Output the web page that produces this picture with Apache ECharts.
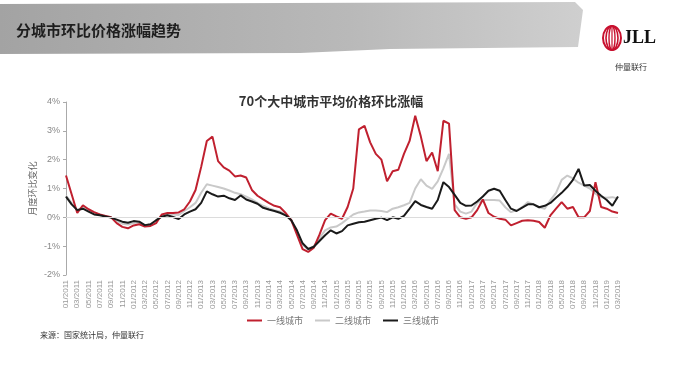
<!DOCTYPE html>
<html><head><meta charset="utf-8">
<script src="https://cdn.jsdelivr.net/npm/echarts@6/dist/echarts.min.js"></script>
<style>html,body{margin:0;padding:0;background:#fff}#c{width:698px;height:378px}</style>
</head><body><div id="c"></div>
<script>
// Monthly categories 01/2011 .. 03/2019
const startYear = 2011, monthCount = 99;
const months = [];
for (let i = 0; i < monthCount; i++) {
  const y = startYear + Math.floor(i / 12), m = (i % 12) + 1;
  months.push((m < 10 ? '0' : '') + m + '/' + y);
}
const seriesNames = ['一线城市', '二线城市', '三线城市'];
const tier1 = [1.45,0.8,0.15,0.42,0.28,0.18,0.1,0.05,0.0,-0.2,-0.33,-0.38,-0.28,-0.24,-0.32,-0.3,-0.2,0.1,0.15,0.15,0.17,0.28,0.55,0.95,1.75,2.65,2.8,1.95,1.73,1.62,1.42,1.45,1.38,0.95,0.75,0.62,0.5,0.4,0.35,0.15,-0.1,-0.6,-1.1,-1.2,-1.05,-0.6,-0.1,0.13,0.03,-0.05,0.36,1.0,3.05,3.17,2.6,2.2,2.0,1.25,1.6,1.65,2.2,2.65,3.52,2.8,1.95,2.25,1.6,3.35,3.25,0.25,0.0,-0.05,0.0,0.25,0.62,0.15,0.02,-0.05,-0.08,-0.28,-0.2,-0.12,-0.1,-0.12,-0.16,-0.36,0.07,0.3,0.53,0.3,0.36,0.0,0.0,0.22,1.22,0.36,0.3,0.2,0.15];
const tier2 = [0.75,0.5,0.25,0.35,0.25,0.15,0.1,0.05,0.0,-0.12,-0.22,-0.25,-0.2,-0.18,-0.28,-0.25,-0.12,0.05,0.12,0.1,0.08,0.22,0.35,0.5,0.85,1.15,1.1,1.05,1.0,0.93,0.85,0.8,0.72,0.62,0.5,0.4,0.32,0.25,0.2,0.08,-0.12,-0.5,-0.95,-1.12,-1.0,-0.72,-0.45,-0.35,-0.32,-0.2,-0.05,0.1,0.17,0.2,0.24,0.24,0.22,0.18,0.3,0.35,0.42,0.5,1.0,1.32,1.1,0.99,1.25,1.7,2.2,0.45,0.2,0.13,0.2,0.5,0.6,0.6,0.6,0.58,0.35,0.18,0.24,0.35,0.53,0.45,0.35,0.3,0.6,0.85,1.3,1.45,1.35,1.2,1.1,1.0,0.82,0.7,0.68,0.7,0.65];
const tier3 = [0.72,0.45,0.25,0.3,0.2,0.1,0.07,0.03,-0.01,-0.08,-0.15,-0.19,-0.13,-0.15,-0.27,-0.24,-0.1,0.02,0.07,0.01,-0.06,0.1,0.2,0.28,0.5,0.9,0.8,0.72,0.75,0.66,0.6,0.76,0.62,0.55,0.47,0.33,0.27,0.22,0.16,0.07,-0.1,-0.45,-0.9,-1.1,-1.02,-0.82,-0.62,-0.45,-0.56,-0.48,-0.28,-0.22,-0.17,-0.15,-0.1,-0.05,-0.01,-0.1,0.0,-0.05,0.05,0.3,0.56,0.43,0.36,0.3,0.6,1.22,1.05,0.78,0.5,0.4,0.41,0.55,0.72,0.92,0.99,0.92,0.6,0.3,0.22,0.34,0.45,0.45,0.35,0.4,0.5,0.68,0.85,1.05,1.3,1.68,1.1,1.12,0.92,0.75,0.6,0.4,0.72];
const yTicks = { min: -2, max: 4, interval: 1 };

const chart = echarts.init(document.getElementById('c'), null, { renderer: 'canvas' });
const lineColors = ['#c0202f', '#c9c9c9', '#1a1a1a'];
chart.setOption({
  backgroundColor: '#ffffff',
  animation: false,
  title: {
    text: '70个大中城市平均价格环比涨幅',
    left: 326, top: 90, textAlign: 'center',
    textStyle: { fontSize: 13, fontWeight: 'bold', color: '#333', fontFamily: 'Noto Sans CJK SC' }
  },
  legend: {
    data: seriesNames, left: 242, top: 311, itemWidth: 15, itemHeight: 2, itemGap: 12,
    icon: 'rect',
    textStyle: { fontSize: 9, color: '#777', fontFamily: 'Noto Sans CJK SC' }
  },
  grid: { left: 66, right: 80, top: 102, bottom: 103 },
  xAxis: {
    type: 'category', data: months, boundaryGap: false,
    axisLine: { show: false, onZero: false }, axisTick: { show: false },
    axisLabel: { interval: 1, rotate: 90, fontSize: 8, color: '#999', margin: 5, fontFamily: 'Liberation Sans' }
  },
  yAxis: {
    type: 'value', min: yTicks.min, max: yTicks.max, interval: yTicks.interval,
    name: '月度环比变化', nameLocation: 'middle', nameGap: 29, nameRotate: 90, nameMoveOverlap: false,
    nameTextStyle: { fontSize: 9, color: '#666', fontFamily: 'Noto Sans CJK SC' },
    axisLine: { show: true, lineStyle: { color: '#aaa', width: 1 } },
    axisTick: { show: true, length: 3, lineStyle: { color: '#aaa' } },
    splitLine: { show: false },
    axisLabel: { formatter: v => v + '%', fontSize: 9, color: '#888', margin: 6, fontFamily: 'Liberation Sans' }
  },
  series: [
    { name: seriesNames[1], type: 'line', data: tier2, symbol: 'none', z: 2,
      lineStyle: { color: lineColors[1], width: 2 }, itemStyle: { color: lineColors[1] },
      markLine: { silent: true, symbol: 'none', label: { show: false },
        lineStyle: { color: '#dcdcdc', width: 1, type: 'solid' }, data: [{ yAxis: 0 }] } },
    { name: seriesNames[0], type: 'line', data: tier1, symbol: 'none', z: 3,
      lineStyle: { color: lineColors[0], width: 2 }, itemStyle: { color: lineColors[0] } },
    { name: seriesNames[2], type: 'line', data: tier3, symbol: 'none', z: 4,
      lineStyle: { color: lineColors[2], width: 2 }, itemStyle: { color: lineColors[2] } }
  ],
  graphic: [
    { type: 'polygon', z: -10, shape: { points: [[0,4],[575,2],[583,10],[578,47],[390,49],[300,53],[0,54]] },
      style: { fill: new echarts.graphic.LinearGradient(0,0,1,0,[{offset:0,color:'#a3a3a3'},{offset:0.6,color:'#b9b9b9'},{offset:1,color:'#cfcfcf'}]) } },
    { type: 'text', left: 16, top: 23, z: 10,
      style: { text: '分城市环比价格涨幅趋势', fontSize: 15, fontWeight: 'bold', fill: '#1e1e1e', fontFamily: 'Noto Sans CJK SC' } },
    { type: 'ellipse', shape: { cx: 612, cy: 38, rx: 9, ry: 12 }, style: { fill: 'none', stroke: '#c8102e', lineWidth: 2 } },
    { type: 'ellipse', shape: { cx: 612, cy: 38, rx: 6, ry: 12 }, style: { fill: 'none', stroke: '#c8102e', lineWidth: 1.6 } },
    { type: 'ellipse', shape: { cx: 612, cy: 38, rx: 3, ry: 12 }, style: { fill: 'none', stroke: '#c8102e', lineWidth: 1.4 } },
    { type: 'line', shape: { x1: 612, y1: 26, x2: 612, y2: 50 }, style: { stroke: '#c8102e', lineWidth: 1.2 } },
    { type: 'text', left: 623, top: 29, style: { text: 'JLL', fontSize: 18, fontWeight: 'bold', fill: '#111', fontFamily: 'Liberation Serif' } },
    { type: 'text', left: 615, top: 63, style: { text: '仲量联行', fontSize: 8, fill: '#333', fontFamily: 'Noto Sans CJK SC' } },
    { type: 'text', left: 40, top: 331, style: { text: '来源：国家统计局，仲量联行', fontSize: 8, fill: '#333', fontFamily: 'Noto Sans CJK SC' } }
  ]
});
</script></body></html>
